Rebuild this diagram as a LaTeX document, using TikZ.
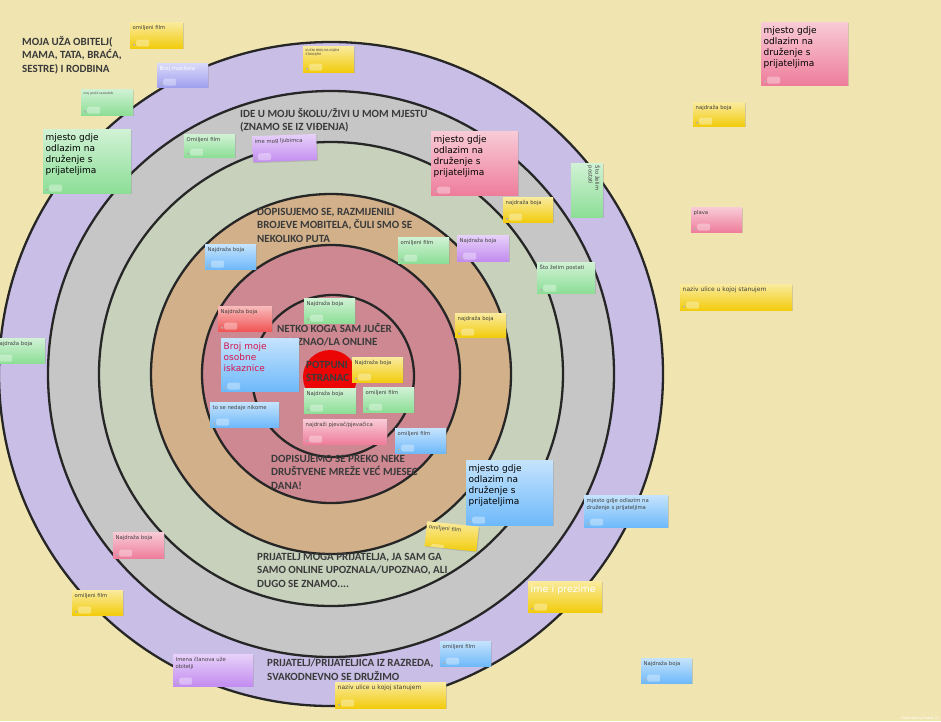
\documentclass[tikz,border=0pt]{standalone}
\usepackage{fontspec}
\usepackage{tikz}
\usetikzlibrary{shadows}
\newfontfamily\dejavu{DejaVu Sans}
\newfontfamily\carlito{Carlito}
\definecolor{paper}{RGB}{240,228,176}
\definecolor{ringA}{RGB}{200,190,230}
\definecolor{ringB}{RGB}{198,198,198}
\definecolor{ringC}{RGB}{199,209,188}
\definecolor{ringD}{RGB}{210,176,138}
\definecolor{ringE}{RGB}{205,136,146}
\definecolor{core}{RGB}{235,5,5}
\definecolor{nyellow}{RGB}{242,204,12}
\definecolor{ngreen}{RGB}{140,222,150}
\definecolor{nblue}{RGB}{110,185,250}
\definecolor{npink}{RGB}{238,125,155}
\definecolor{nviolet}{RGB}{195,140,240}
\definecolor{nlav}{RGB}{160,160,240}
\definecolor{nred}{RGB}{240,85,85}
\definecolor{ink}{RGB}{58,58,58}
\definecolor{crimson}{RGB}{215,20,75}

\begin{document}
\begin{tikzpicture}[x=1pt,y=-1pt,
    ring/.style={draw=black!85,line width=2.3pt},
    lbl/.style={anchor=north west,inner sep=0pt,align=left,text=ink,
                font=\carlito\bfseries\fontsize{11}{13.5}\selectfont},
    note/.style={anchor=north west,inner xsep=2.5pt,inner ysep=2.5pt,align=left,
                 top color=#1!40!white,bottom color=#1,text=black!75,text height=5pt,
                 font=\dejavu\fontsize{5.3}{6.6}\selectfont,
                 drop shadow={shadow xshift=1pt,shadow yshift=-1pt,opacity=0.3},
                 path picture={
                   \fill[white,opacity=0.35,rounded corners=2pt]
                     ([xshift=6pt,yshift=1.5pt]path picture bounding box.south west) rectangle ++(13pt,7pt);
                   \fill[black!30] ([xshift=4pt,yshift=3.5pt]path picture bounding box.south west) circle (1.2pt);}},
    sz/.code 2 args={\pgfmathsetmacro\notew{#1-5}\pgfmathsetmacro\notedp{#2-10}%
                     \edef\notetmp{\noexpand\pgfkeysalso{text width=\notew pt,text depth=\notedp pt}}\notetmp},
    big/.style={font=\dejavu\fontsize{9}{11}\selectfont,text=black,text height=8.5pt},
    tiny/.style={font=\dejavu\fontsize{3}{3.6}\selectfont,text height=3pt}]

  \useasboundingbox (0,0) rectangle (941,721);
  \clip (0,0) rectangle (941,721);
  \fill[paper] (0,0) rectangle (941,721);

  % target rings
  \coordinate (ctr) at (331,374);
  \foreach \r/\c in {332/ringA,283/ringB,232/ringC,180/ringD,129/ringE}
    \draw[ring,fill=\c] (ctr) circle (\r pt);
  \draw[ring,fill=ringE] (333,376) circle (81pt);
  \fill[core] (330,377) circle (27pt);

  % ring texts
  \node[lbl] (obitelj) at (22,36) {MOJA UŽA OBITELJ(\\MAMA, TATA, BRAĆA,\\SESTRE) I RODBINA};
  \node[lbl] (skola) at (240,108) {IDE U MOJU ŠKOLU/ŽIVI U MOM MJESTU\\(ZNAMO SE IZ VIĐENJA)};
  \node[lbl] (brojevi) at (257,208) {DOPISUJEMO SE, RAZMIJENILI\\BROJEVE MOBITELA, ČULI SMO SE\\NEKOLIKO PUTA};
  \node[lbl] (jucer) at (277,323) {NETKO KOGA SAM JUČER\\UPOZNAO/LA ONLINE};
  \node[lbl] (stranac) at (306,361) {POTPUNI\\STRANAC};
  \node[lbl] (mreza) at (271,455) {DOPISUJEMO SE PREKO NEKE\\DRUŠTVENE MREŽE VEĆ MJESEC\\DANA!};
  \node[lbl] (online) at (257,553) {PRIJATELJ MOGA PRIJATELJA, JA SAM GA\\SAMO ONLINE UPOZNALA/UPOZNAO, ALI\\DUGO SE ZNAMO....};
  \node[lbl] (razred) at (267,659) {PRIJATELJ/PRIJATELJICA IZ RAZREDA,\\SVAKODNEVNO SE DRUŽIMO};

  % notes
  \node[note=nyellow,sz={53}{26}] (filmA) at (130,22) {omiljeni film};
  \node[note=nlav,sz={51}{24},text=white] (mobitel) at (157,63) {Broj mobitela};
  \node[note=nyellow,tiny,sz={51}{28}] (kucni) at (303,46) {KUĆNI BROJ NA KOJEM\\STANUJEM};
  \node[note=ngreen,tiny,sz={52}{28}] (razrednik) at (81,89) {moj prošli razrednik};
  \node[note=ngreen,big,sz={88}{60.5}] (druzA) at (43,129) {mjesto gdje\\odlazim na\\druženje s\\prijateljima};
  \node[note=ngreen,sz={51}{23}] (filmB) at (184,134) {Omiljeni film};
  \node[note=nviolet,sz={64}{26},rotate=2] (ljubimac) at (252,136) {ime mog ljubimca};
  \node[note=npink,big,sz={87}{60.5}] (druzB) at (431,131) {mjesto gdje\\odlazim na\\druženje s\\prijateljima};
  \node[note=nyellow,sz={50}{25}] (bojaA) at (503,197) {najdraža boja};
  \node[note=nblue,sz={51}{25}] (bojaB) at (205,244) {Najdraža boja};
  \node[note=ngreen,sz={51}{26}] (filmC) at (398,237) {omiljeni film};
  \node[note=nviolet,sz={52}{26}] (bojaC) at (457,235) {Najdraža boja};
  \node[note=ngreen,sz={54}{32},rotate=-90] (postatiA) at (603,163) {Što želim\\postati};
  \node[note=npink,big,sz={87}{59.5}] (druzC) at (761,22) {mjesto gdje\\odlazim na\\druženje s\\prijateljima};
  \node[note=nyellow,sz={52}{24}] (bojaD) at (693,102) {najdraža boja};
  \node[note=npink,sz={51}{25}] (plava) at (691,207) {plava};
  \node[note=ngreen,sz={58}{31}] (postatiB) at (537,262) {Što želim postati};
  \node[note=nyellow,sz={112}{26},font=\dejavu\fontsize{6}{7}\selectfont] (uliceA) at (680,284) {naziv ulice u kojoj stanujem};
  \node[note=nyellow,sz={51}{24}] (bojaI) at (455,313) {najdraža boja};
  \node[note=nred,sz={54}{25}] (bojaE) at (218,306) {Najdraža boja};
  \node[note=ngreen,sz={51}{25}] (bojaF) at (304,298) {Najdraža boja};
  \node[note=nblue,big,sz={78}{49.5},text=crimson] (iskaznica) at (221,338) {Broj moje\\osobne\\iskaznice};
  \node[note=nyellow,sz={51}{25}] (bojaG) at (352,357) {Najdraža boja};
  \node[note=ngreen,sz={52}{25}] (bojaH) at (304,388) {Najdraža boja};
  \node[note=ngreen,sz={51}{25}] (filmD) at (363,387) {omiljeni film};
  \node[note=nblue,sz={69}{25}] (nedaje) at (210,402) {to se nedaje nikome};
  \node[note=npink,sz={84}{25}] (pjevac) at (303,419) {najdraži pjevač/pjevačica};
  \node[note=nblue,sz={51}{25}] (filmE) at (395,428) {omiljeni film};
  \node[note=nblue,big,sz={87}{61.5}] (druzD) at (466,460) {mjesto gdje\\odlazim na\\druženje s\\prijateljima};
  \node[note=nyellow,sz={52}{25},rotate=-6] (filmF) at (427,521) {omiljeni film};
  \node[note=nblue,sz={84}{32}] (druzE) at (584,495) {mjesto gdje odlazim na\\druženje s prijateljima};
  \node[note=nyellow,big,sz={74}{27.5},text=white,font=\dejavu\fontsize{9.5}{11}\selectfont] (prezime) at (528,581) {ime i prezime};
  \node[note=nblue,sz={51}{25}] (filmG) at (440,641) {omiljeni film};
  \node[note=nblue,sz={51}{25}] (bojaJ) at (641,658) {Najdraža boja};
  \node[note=nyellow,sz={111}{26},font=\dejavu\fontsize{6}{7}\selectfont] (uliceB) at (335,682) {naziv ulice u kojoj stanujem};
  \node[note=ngreen,sz={52}{25}] (bojaK) at (-7,338) {Najdraža boja};
  \node[note=npink,sz={51}{26}] (bojaL) at (113,532) {Najdraža boja};
  \node[note=nyellow,sz={51}{25}] (filmH) at (72,590) {omiljeni film};
  \node[note=nviolet,sz={80}{32}] (imena) at (173,654) {Imena članova uže\\obitelji};

  \node[anchor=south east,inner sep=1pt,text=white,font=\dejavu\fontsize{3.5}{4}\selectfont] (padlet) at (941,721) {Powered by Padlet (C)};
\end{tikzpicture}
\end{document}
